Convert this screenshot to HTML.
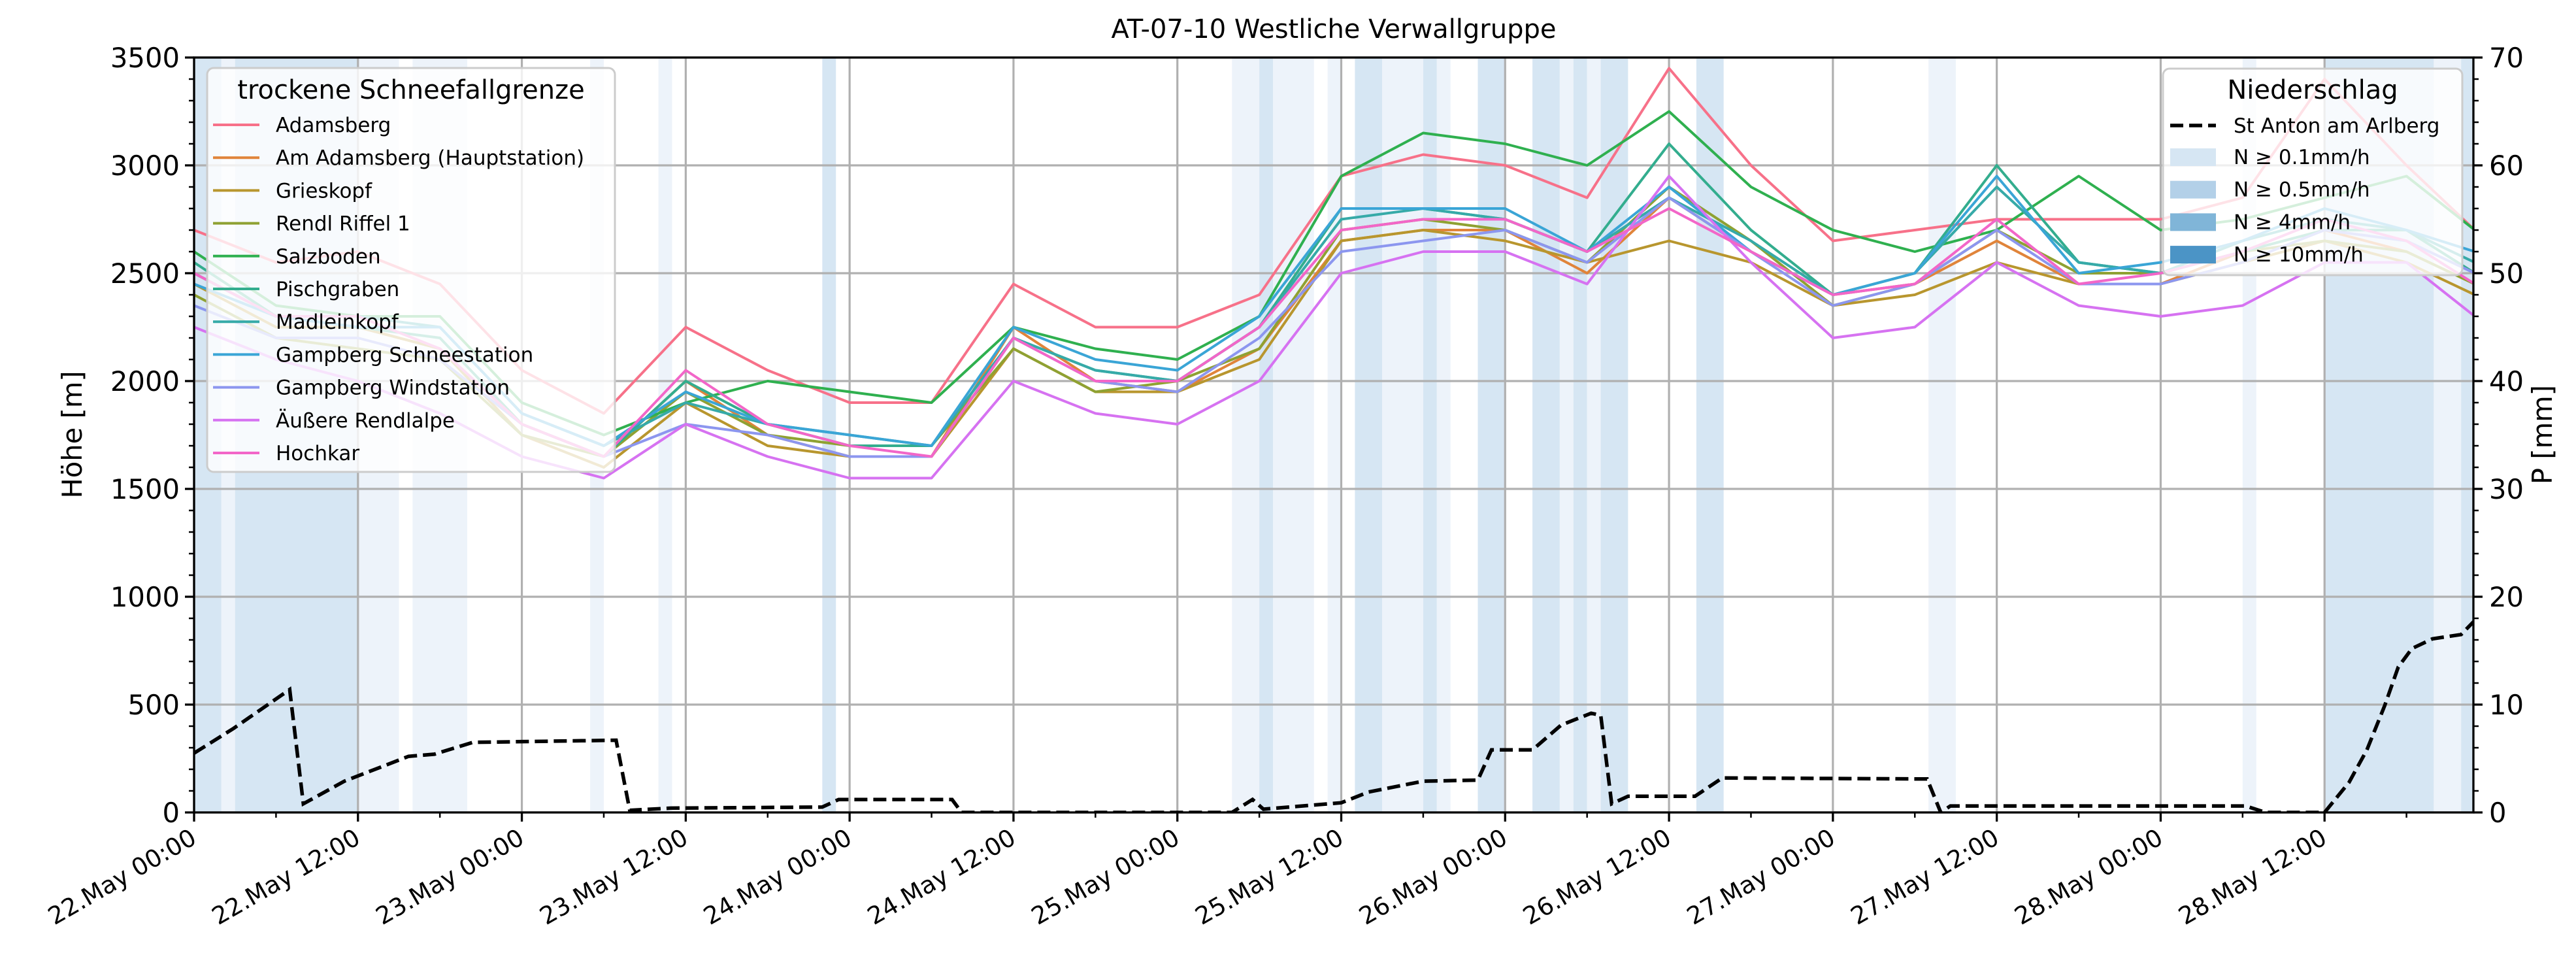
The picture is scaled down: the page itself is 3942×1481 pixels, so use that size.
<!DOCTYPE html>
<html><head><meta charset="utf-8"><title>AT-07-10 Westliche Verwallgruppe</title>
<style>html,body{margin:0;padding:0;background:#fff}svg{display:block}text{font-family:"DejaVu Sans","Liberation Sans",sans-serif}</style>
</head><body>
<svg id="chart" xmlns="http://www.w3.org/2000/svg" width="3942" height="1481" viewBox="0 0 3942 1481">
<defs><clipPath id="plotclip"><rect x="297" y="88" width="3488" height="1155"/></clipPath></defs>
<rect x="0" y="0" width="3942" height="1481" fill="#fff"/>
<text x="2041" y="58" font-size="40" text-anchor="middle">AT-07-10 Westliche Verwallgruppe</text>
<g id="bands" clip-path="url(#plotclip)"></g>
<g id="grid"></g>
<g id="series" clip-path="url(#plotclip)"></g>
<g id="axes"></g>
<g id="legends"></g>
</svg>
<script>
// ---- data ----
const hours = [0,6,12,18,24,30,36,42,48,54,60,66,72,78,84,90,96,102,108,114,120,126,132,138,144,150,156,162,167];
const stationNames = ["Adamsberg","Am Adamsberg (Hauptstation)","Grieskopf","Rendl Riffel 1","Salzboden","Pischgraben","Madleinkopf","Gampberg Schneestation","Gampberg Windstation","Äußere Rendlalpe","Hochkar"];
const adamsberg   = [2700,2550,2600,2450,2050,1850,2250,2050,1900,1900,2450,2250,2250,2400,2950,3050,3000,2850,3450,3000,2650,2700,2750,2750,2750,2850,3400,3000,2700];
const amAdamsberg = [2500,2300,2250,2150,1800,1650,2000,1750,1650,1650,2250,2000,1950,2150,2650,2700,2700,2500,2850,2600,2400,2450,2650,2450,2450,2600,2700,2600,2450];
const grieskopf   = [2450,2250,2250,2150,1750,1600,1900,1700,1650,1650,2150,1950,1950,2100,2650,2700,2650,2550,2650,2550,2350,2400,2550,2450,2450,2550,2650,2550,2400];
const rendlRiffel = [2400,2200,2150,2100,1750,1650,1950,1750,1700,1700,2150,1950,2000,2150,2700,2750,2700,2550,2900,2650,2350,2450,2700,2500,2500,2600,2650,2600,2450];
const salzboden   = [2600,2350,2300,2300,1900,1750,1900,2000,1950,1900,2250,2150,2100,2300,2950,3150,3100,3000,3250,2900,2700,2600,2700,2950,2700,2750,2850,2950,2700];
const pischgraben = [2550,2300,2250,2200,1800,1650,2000,1800,1700,1700,2200,2050,2000,2250,2800,2800,2750,2600,3100,2700,2400,2500,3000,2550,2500,2600,2700,2700,2500];
const madleinkopf = [2500,2300,2300,2250,1850,1700,1900,1800,1750,1700,2200,2050,2000,2250,2750,2800,2750,2600,2850,2650,2400,2500,2900,2550,2500,2650,2750,2700,2550];
const gampSchnee  = [2450,2300,2250,2250,1850,1700,1950,1800,1750,1700,2250,2100,2050,2300,2800,2800,2800,2600,2900,2600,2400,2500,2950,2500,2550,2650,2800,2700,2600];
const gampWind    = [2350,2200,2200,2100,1800,1650,1800,1750,1650,1650,2200,2000,1950,2200,2600,2650,2700,2550,2850,2600,2350,2450,2700,2450,2450,2550,2700,2650,2500];
const aeussere    = [2250,2100,2000,1850,1650,1550,1800,1650,1550,1550,2000,1850,1800,2000,2500,2600,2600,2450,2950,2550,2200,2250,2550,2350,2300,2350,2550,2550,2300];
const hochkar     = [2500,2300,2300,2150,1800,1650,2050,1800,1700,1650,2200,2000,2000,2250,2700,2750,2750,2600,2800,2600,2400,2450,2750,2450,2500,2600,2750,2650,2450];
const stationColors = ["#f77189","#e0843a","#b8962e","#8fa132","#2fb04f","#33ad8e","#36aaa8","#3aa5d6","#8c96ef","#d672f1","#f266c8"];
const precipHours = [0,2.9,7,8,11,15.7,17.6,20.4,30.9,31.9,34.9,46,47.2,55.5,56.2,76,77.5,78.3,84,86,90,94,95,98,100.1,102.3,103,103.8,105,109.9,111.9,126.9,127.9,128.6,150.2,151.7,156,157.8,159.1,160.4,161.4,162.4,163.9,166,167];
const precipMM    = [5.5,7.8,11.4,0.8,2.9,5.2,5.4,6.5,6.7,0.2,0.4,0.5,1.2,1.2,0,0,1.2,0.3,0.9,1.9,2.9,3.0,5.8,5.8,8.1,9.2,9.0,0.8,1.5,1.5,3.2,3.1,0,0.6,0.6,0,0,2.8,5.8,9.9,13.5,15.2,16.1,16.5,17.8];
const bandStart = [0,2,3,12,16,29,34,46,76,78,79,83,85,87,90,91,94,98,100,101,102,103,110,127,150,156,164,166];
const bandEnd   = [2,3,12,15,20,30,35,47,78,79,82,84,87,90,91,92,96,100,101,102,103,105,112,129,151,164,166,167];
const bandLevel = [1,0,1,0,0,0,0,1,0,1,0,0,1,0,1,0,1,1,0,1,0,1,1,0,0,1,0,1];
const xTickLabels = ["22.May 00:00","22.May 12:00","23.May 00:00","23.May 12:00","24.May 00:00","24.May 12:00","25.May 00:00","25.May 12:00","26.May 00:00","26.May 12:00","27.May 00:00","27.May 12:00","28.May 00:00","28.May 12:00"];
const yTicks = [0,500,1000,1500,2000,2500,3000,3500];
const pTicks = [0,10,20,30,40,50,60,70];

// ---- axes ----
const L=297,R=3785,T=88,B=1243;
const xs = h => L + h*(R-L)/166.9;
const ys = m => B - m*(B-T)/3500;
const yp = mm => B - mm*(B-T)/70;
const NS="http://www.w3.org/2000/svg";
function mk(tag, attrs, parent){const e=document.createElementNS(NS,tag);for(const k in attrs)e.setAttribute(k,attrs[k]);parent.appendChild(e);return e;}
const gB=document.getElementById('bands'),gG=document.getElementById('grid'),gS=document.getElementById('series'),gA=document.getElementById('axes'),gL=document.getElementById('legends');
const bandColors=["#edf3fa","#d6e6f3"];

bandStart.forEach((s,i)=>{
  const r=mk('rect',{x:xs(s),y:T,width:xs(bandEnd[i])-xs(s),height:B-T,fill:bandColors[bandLevel[i]]},gB);
  
  
});
yTicks.forEach(v=>{const l=mk('line',{x1:L,x2:R,y1:ys(v),y2:ys(v),stroke:"#b0b0b0","stroke-width":3.2},gG);
  
  });
xTickLabels.forEach((t,i)=>{const l=mk('line',{x1:xs(i*12),x2:xs(i*12),y1:T,y2:B,stroke:"#b0b0b0","stroke-width":3.2},gG);
  
  });
const allSeries=[adamsberg,amAdamsberg,grieskopf,rendlRiffel,salzboden,pischgraben,madleinkopf,gampSchnee,gampWind,aeussere,hochkar];
allSeries.forEach((arr,i)=>{
  const d=arr.map((v,j)=>(j?'L':'M')+xs(hours[j]).toFixed(1)+','+ys(v).toFixed(1)).join('');
  const p=mk('path',{d:d,fill:"none",stroke:stationColors[i],"stroke-width":4,"stroke-linejoin":"round"},gS);
  
  
});
{
  const d=precipMM.map((v,j)=>(j?'L':'M')+xs(precipHours[j]).toFixed(1)+','+yp(v).toFixed(1)).join('');
  const p=mk('path',{d:d,fill:"none",stroke:"#000","stroke-width":5.5,"stroke-dasharray":"20 9"},gS);
  
  
}
const fr=mk('rect',{x:L,y:T,width:R-L,height:B-T,fill:"none",stroke:"#000","stroke-width":3.3},gA);


for(let v=0;v<=3500;v+=100){const maj=v%500===0;mk('line',{x1:L,x2:L-(maj?14:8),y1:ys(v),y2:ys(v),stroke:"#000","stroke-width":maj?3.3:2.5},gA);}
yTicks.forEach(v=>{const t=mk('text',{x:L-22,y:ys(v)+15,"font-size":41.7,"text-anchor":"end"},gA);t.textContent=v;
  
  });
for(let v=0;v<=70;v+=2){const maj=v%10===0;mk('line',{x1:R,x2:R+(maj?14:8),y1:yp(v),y2:yp(v),stroke:"#000","stroke-width":maj?3.3:2.5},gA);}
pTicks.forEach(v=>{const t=mk('text',{x:R+24,y:yp(v)+15,"font-size":41.7},gA);t.textContent=v;
  
  });
for(let h=0;h<=166;h+=6){const maj=h%12===0;mk('line',{x1:xs(h),x2:xs(h),y1:B,y2:B+(maj?14:8),stroke:"#000","stroke-width":maj?3.3:2.5},gA);}
xTickLabels.forEach((s,i)=>{const x=xs(i*12);const t=mk('text',{x:x+6,y:B+46,"font-size":37,"text-anchor":"end",transform:`rotate(-30 ${x+6} ${B+46})`},gA);t.textContent=s;
  
  });
{const t=mk('text',{x:125,y:665,"font-size":41.7,"text-anchor":"middle",transform:"rotate(-90 125 665)"},gA);t.textContent="Höhe [m]";
 
 
 const t2=mk('text',{x:3905,y:665,"font-size":41.7,"text-anchor":"middle",transform:"rotate(-90 3905 665)"},gA);t2.textContent="P [mm]";
 
 }
{const box=mk('rect',{x:317,y:104,width:624,height:618,rx:10,fill:"#fff","fill-opacity":0.8,stroke:"#cccccc","stroke-width":3},gL);
 
 
 const tt=mk('text',{x:629,y:151,"font-size":40,"text-anchor":"middle"},gL);tt.textContent="trockene Schneefallgrenze";
 
 
 stationNames.forEach((n,i)=>{const y=191+i*50.2;
  const ln=mk('line',{x1:326,x2:397,y1:y,y2:y,stroke:stationColors[i],"stroke-width":4},gL);
  
  
  const t=mk('text',{x:422,y:y+11,"font-size":31},gL);t.textContent=n;
  
  });}
{const box=mk('rect',{x:3310,y:105,width:458,height:316,rx:10,fill:"#fff","fill-opacity":0.8,stroke:"#cccccc","stroke-width":3},gL);
 
 
 const tt=mk('text',{x:3539,y:151,"font-size":40,"text-anchor":"middle"},gL);tt.textContent="Niederschlag";
 
 
 const dl=mk('line',{x1:3321,x2:3391,y1:192,y2:192,stroke:"#000","stroke-width":5.5,"stroke-dasharray":"20 9"},gL);
 
 
 const t0=mk('text',{x:3418,y:203,"font-size":31},gL);t0.textContent="St Anton am Arlberg";
 
 
 const pc=["#d6e6f3","#b3d0e8","#80b5d8","#4b94c6"],pl=["N ≥ 0.1mm/h","N ≥ 0.5mm/h","N ≥ 4mm/h","N ≥ 10mm/h"];
 pl.forEach((s,i)=>{const y=240+i*49.7;
  const r=mk('rect',{x:3321,y:y-13,width:70,height:27,fill:pc[i]},gL);
  
  
  const t=mk('text',{x:3418,y:y+11,"font-size":31},gL);t.textContent=s;
  
  });}
</script>
</body></html>
